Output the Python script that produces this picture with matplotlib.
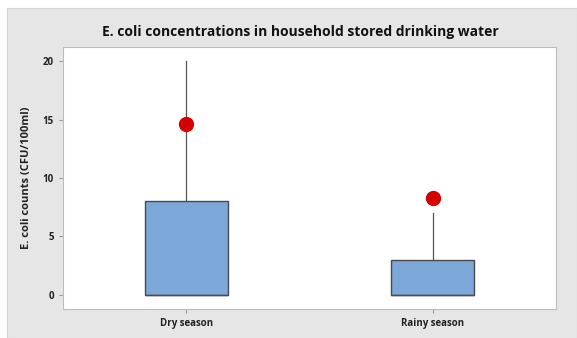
import numpy as np
import matplotlib.pyplot as plt

plt.rcParams['font.family'] = ['Open Sans', 'DejaVu Sans']

seasons = ["Dry season", "Rainy season"]
q1 = [0, 0]
med = [0, 0]
q3 = [8, 3]
whislo = [0, 0]
whishi = [20, 7]
outliers = [[14.6], [8.3]]

stats = []
for i, name in enumerate(seasons):
    stats.append(dict(label=name, q1=q1[i], med=med[i], q3=q3[i],
                      whislo=whislo[i], whishi=whishi[i], fliers=outliers[i]))

fig = plt.figure(figsize=(5.77, 3.38), dpi=100)
fig.patch.set_facecolor("white")

# grey panel behind the plot
bg = fig.add_axes([7/577, 0, 570/577, 330/338], zorder=0)
bg.set_facecolor("#e6e6e6")
bg.set_xticks([])
bg.set_yticks([])
for s in bg.spines.values():
    s.set_color("#d4d4d4")

ax = fig.add_axes([63/577, 1-309/338, 493/577, 262/338], zorder=1)
ax.bxp(stats, positions=[1, 2], widths=0.337, patch_artist=True, showcaps=False,
       boxprops=dict(facecolor="#7ba7d9", edgecolor="#4a4a4a", lw=1.0),
       medianprops=dict(color="#4a4a4a", lw=1.0),
       whiskerprops=dict(color="#555555", lw=0.9),
       flierprops=dict(marker="o", markerfacecolor="#d40000", markeredgecolor="#d40000",
                       markersize=10))

ax.set_xlim(0.5, 2.5)
ax.set_ylim(-1.2, 21.2)
ax.set_yticks([0, 5, 10, 15, 20])
for s in ax.spines.values():
    s.set_color("#bdbdbd")
ax.tick_params(colors="#999999", labelcolor="#222222", length=3, width=0.8)
for lab in ax.get_xticklabels() + ax.get_yticklabels():
    lab.set_fontsize(7)
    lab.set_fontweight("bold")

ax.set_ylabel("E. coli counts (CFU/100ml)", fontsize=8, fontweight="bold",
              color="#222222", labelpad=8)
fig.text(300/577, 1-32/338, "E. coli concentrations in household stored drinking water",
         ha="center", va="center", fontsize=10, fontweight="bold", color="#111111", zorder=2)

plt.savefig("out.png", dpi=100)
